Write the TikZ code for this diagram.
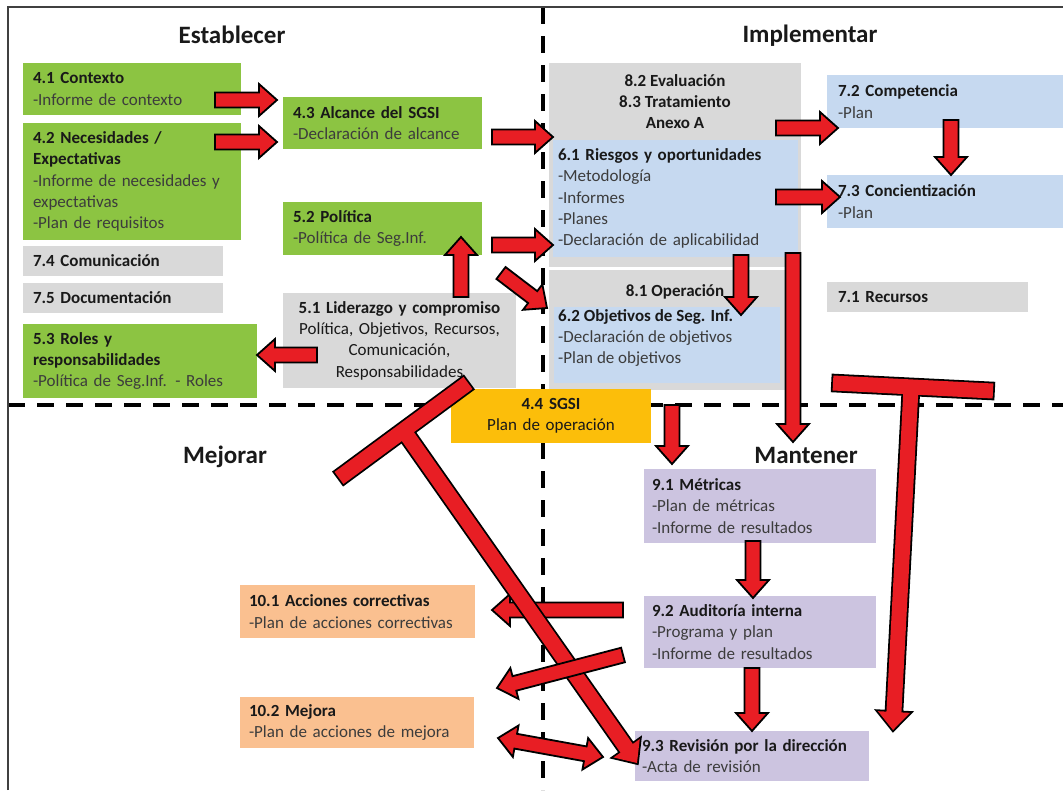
\documentclass[tikz,border=0pt]{standalone}
\usepackage{fontspec}
\setmainfont{Carlito}
\usetikzlibrary{calc}

\definecolor{boxgreen}{RGB}{140,196,66}
\definecolor{boxgray}{RGB}{217,217,217}
\definecolor{boxblue}{RGB}{198,217,240}
\definecolor{boxpurple}{RGB}{204,196,224}
\definecolor{boxpeach}{RGB}{250,192,144}
\definecolor{boxgold}{RGB}{252,190,10}
\definecolor{arrowred}{RGB}{232,30,36}
\definecolor{inkdark}{RGB}{25,25,25}
\definecolor{inkbody}{RGB}{60,60,60}

\newcommand\bodysize{\fontsize{17}{21.3}\selectfont}
\newcommand\hd[1]{{\bfseries\color{inkdark}#1}}

% block arrow geometry: half shaft width, half head width, head length
\def\asw{7.5pt}
\def\ahw{16pt}
\def\ahl{18pt}

% single-headed block arrow from #1 to #2
\newcommand\blockarrow[2]{%
  \path ($(#2)!\ahl!(#1)$) coordinate (ah);
  \path[arrowbody] ($(#1)!\asw!90:(#2)$) -- ($(ah)!\asw!-90:(#1)$) -- ($(ah)!\ahw!-90:(#1)$) -- (#2)
    -- ($(ah)!\ahw!90:(#1)$) -- ($(ah)!\asw!90:(#1)$) -- ($(#1)!\asw!-90:(#2)$) -- cycle;}

% double-headed block arrow between #1 and #2
\newcommand\doublearrow[2]{%
  \path ($(#2)!\ahl!(#1)$) coordinate (ah) ($(#1)!\ahl!(#2)$) coordinate (at);
  \path[arrowbody] (#1) -- ($(at)!\ahw!90:(#2)$) -- ($(at)!\asw!90:(#2)$) -- ($(ah)!\asw!-90:(#1)$)
    -- ($(ah)!\ahw!-90:(#1)$) -- (#2) -- ($(ah)!\ahw!90:(#1)$) -- ($(ah)!\asw!90:(#1)$)
    -- ($(at)!\asw!-90:(#2)$) -- ($(at)!\ahw!-90:(#2)$) -- cycle;}

% T-shaped arrow: bar from #1 to #2, stem from #3 to the tip #4
\newcommand\teeshape[4]{($(#1)!\asw!90:(#2)$) -- ($(#2)!\asw!-90:(#1)$) -- ($(#2)!\asw!90:(#1)$) -- ($(#1)!\asw!-90:(#2)$) -- cycle
  ($(#3)!\asw!90:(#4)$) -- ($(ah)!\asw!-90:(#3)$) -- ($(ah)!\ahw!-90:(#3)$) -- (#4) -- ($(ah)!\ahw!90:(#3)$) -- ($(ah)!\asw!90:(#3)$) -- ($(#3)!\asw!-90:(#4)$) -- cycle}
\newcommand\teearrow[4]{%
  \path ($(#4)!\ahl!(#3)$) coordinate (ah);
  \draw[line width=3.6pt, line join=miter] \teeshape{#1}{#2}{#3}{#4};
  \fill[arrowred] \teeshape{#1}{#2}{#3}{#4};}

\tikzset{
  box/.style={anchor=north west, inner sep=0pt, outer sep=0pt, font=\bodysize, text=inkbody, align=left},
  sz/.style n args={3}{minimum width=#1pt, minimum height=#2pt, text width=#3pt},
  greenbox/.style={box, fill=boxgreen},
  graybox/.style={box, fill=boxgray},
  bluebox/.style={box, fill=boxblue},
  purplebox/.style={box, fill=boxpurple},
  peachbox/.style={box, fill=boxpeach},
  goldbox/.style={box, fill=boxgold},
  heading/.style={inner sep=0pt, font=\bodysize, text=inkdark, align=center},
  quadtitle/.style={anchor=base, inner sep=0pt, font=\fontsize{25}{30}\selectfont\bfseries, text=inkdark},
  divider/.style={line width=3.2pt, dash pattern=on 17pt off 12pt},
  frameline/.style={line width=1.8pt, draw=black!75},
  arrowbody/.style={fill=arrowred, draw=black, line width=1.8pt, line join=miter},
}

\begin{document}
\begin{tikzpicture}[x=1pt, y=-1pt]
\useasboundingbox (0,0) rectangle (1063,790);
\fill[white] (0,0) rectangle (1063,790);

% quadrant dividers and frame
\draw[divider] (543,7) -- (543,790);
\draw[divider] (8,405) -- (1063,405);
\draw[frameline] (8,790) -- (8,7) -- (1063,7);

% quadrant titles
\node[quadtitle] (qEst) at (232,43) {Establecer};
\node[quadtitle] (qImp) at (810,42) {Implementar};
\node[quadtitle] (qMej) at (225,463) {Mejorar};
\node[quadtitle] (qMan) at (806,463) {Mantener};

% Establecer
\node[greenbox, sz={218}{52}{198}] (n41) at (23,63) {\hd{4.1 Contexto}\\-Informe de contexto};
\node[greenbox, sz={218}{117}{198}] (n42) at (23,123) {\hd{4.2 Necesidades /}\\\hd{Expectativas}\\-Informe de necesidades y\\expectativas\\-Plan de requisitos};
\node[graybox, sz={200}{30}{180}] (n74) at (23,246) {\hd{7.4 Comunicación}};
\node[graybox, sz={200}{30}{180}] (n75) at (23,283) {\hd{7.5 Documentación}};
\node[greenbox, sz={234}{74}{214}] (n53) at (23,324) {\hd{5.3 Roles y}\\\hd{responsabilidades}\\-Política de Seg.Inf. - Roles};
\node[greenbox, sz={199}{52}{179}] (n43) at (283,97) {\hd{4.3 Alcance del SGSI}\\-Declaración de alcance};
\node[greenbox, sz={199}{53}{179}] (n52) at (283,202) {\hd{5.2 Política}\\-Política de Seg.Inf.};
\node[graybox, sz={233}{95}{223}, align=center, text=inkdark] (n51) at (283,293) {\hd{5.1 Liderazgo y compromiso}\\Política, Objetivos, Recursos,\\Comunicación,\\Responsabilidades};

% Implementar
\node[graybox, sz={252}{204}{232}] (n82) at (549,63) {};
\node[heading, anchor=north] (h82) at (675,71) {\strut\hd{8.2 Evaluación}\\\hd{8.3 Tratamiento}\\\hd{Anexo A}};
\node[bluebox, sz={245}{117}{235}] (n61) at (553,140) {\hd{6.1 Riesgos y oportunidades}\\-Metodología\\-Informes\\-Planes\\-Declaración de aplicabilidad};
\node[graybox, sz={252}{120}{232}] (n81) at (549,270) {};
\node[heading, anchor=north] (h81) at (675,281) {\strut\hd{8.1 Operación}};
\node[bluebox, sz={226}{76}{216}] (n62) at (554,307) {};
\node[heading, anchor=north west, align=left, text=inkbody] (t62) at (558,306) {\strut\hd{6.2 Objetivos de Seg. Inf.}\\-Declaración de objetivos\\-Plan de objetivos};
\node[bluebox, sz={236}{53}{214}] (n72) at (827,75) {\hd{7.2 Competencia}\\-Plan};
\node[bluebox, sz={236}{53}{214}] (n73) at (827,175) {\hd{7.3 Concientización}\\-Plan};
\node[graybox, sz={201}{30}{179}] (n71) at (827,282) {\hd{7.1 Recursos}};

% Mantener
\node[purplebox, sz={232}{74}{216}] (n91) at (644,469) {\hd{9.1 Métricas}\\-Plan de métricas\\-Informe de resultados};
\node[purplebox, sz={232}{72}{216}] (n92) at (644,596) {\hd{9.2 Auditoría interna}\\-Programa y plan\\-Informe de resultados};
\node[purplebox, sz={234}{50}{220}] (n93) at (635,731) {\hd{9.3 Revisión por la dirección}\\-Acta de revisión};

% Mejorar
\node[peachbox, sz={235}{53}{217}] (n101) at (240,585) {\hd{10.1 Acciones correctivas}\\-Plan de acciones correctivas};
\node[peachbox, sz={234}{51}{216}] (n102) at (240,697) {\hd{10.2 Mejora}\\-Plan de acciones de mejora};

% SGSI
\node[goldbox, sz={200}{54}{190}, align=center, text=inkdark] (n44) at (451,389) {\hd{4.4 SGSI}\\Plan de operación};

% arrow end points
\coordinate (n41-out) at (215,100);   \coordinate (n43-in1) at (277,100);
\coordinate (n42-out) at (215,142);   \coordinate (n43-in2) at (277,142);
\coordinate (n43-out) at (492,137);   \coordinate (n82-in)  at (553,137);
\coordinate (n52-out) at (492,245);   \coordinate (n61-in)  at (553,245);
\coordinate (n52-out2) at (501,273);  \coordinate (n81-in)  at (547,308);
\coordinate (n51-up) at (461,297);    \coordinate (n52-in)  at (461,237);
\coordinate (n51-left) at (317,355);  \coordinate (n53-in)  at (257,355);
\coordinate (n61-out1) at (776,128);  \coordinate (n72-in)  at (838,128);
\coordinate (n61-out2) at (776,197);  \coordinate (n73-in)  at (840,197);
\coordinate (n72-out) at (951,120);   \coordinate (n73-in2) at (951,175);
\coordinate (n61-down) at (741,255);  \coordinate (n62-in)  at (741,315);
\coordinate (n61-out3) at (793,253);  \coordinate (n91-top) at (793,442);
\coordinate (n44-out) at (672,405);   \coordinate (n91-in)  at (672,464);
\coordinate (n91-out) at (753,541);   \coordinate (n92-in)  at (753,598);
\coordinate (n92-out) at (752,668);   \coordinate (n93-in)  at (752,731);
\coordinate (n92-left1) at (623,610); \coordinate (n101-in) at (492,610);
\coordinate (n92-left2) at (623,655); \coordinate (n102-in) at (497,688);
\coordinate (n102-io) at (498,738);   \coordinate (n93-io)  at (603,757);
\coordinate (tr-a) at (833,383); \coordinate (tr-b) at (993,391); \coordinate (tr-j) at (911,388); \coordinate (n93-in2) at (893,730);
\coordinate (tl-a) at (339,478); \coordinate (tl-b) at (468,383); \coordinate (tl-j) at (404,431); \coordinate (n93-in3) at (637,763);

% Establecer arrows
\blockarrow{n41-out}{n43-in1}
\blockarrow{n42-out}{n43-in2}
\blockarrow{n43-out}{n82-in}
\blockarrow{n52-out}{n61-in}
\blockarrow{n52-out2}{n81-in}
\blockarrow{n51-up}{n52-in}
\blockarrow{n51-left}{n53-in}

% Implementar arrows
\blockarrow{n61-out1}{n72-in}
\blockarrow{n61-out2}{n73-in}
\blockarrow{n72-out}{n73-in2}
\blockarrow{n61-down}{n62-in}
\blockarrow{n61-out3}{n91-top}

% Mantener arrows
\blockarrow{n44-out}{n91-in}
\blockarrow{n91-out}{n92-in}
\blockarrow{n92-out}{n93-in}
\teearrow{tr-a}{tr-b}{tr-j}{n93-in2}

% Mejorar arrows
\blockarrow{n92-left1}{n101-in}
\teearrow{tl-a}{tl-b}{tl-j}{n93-in3}
\blockarrow{n92-left2}{n102-in}
\doublearrow{n102-io}{n93-io}
\end{tikzpicture}
\end{document}
